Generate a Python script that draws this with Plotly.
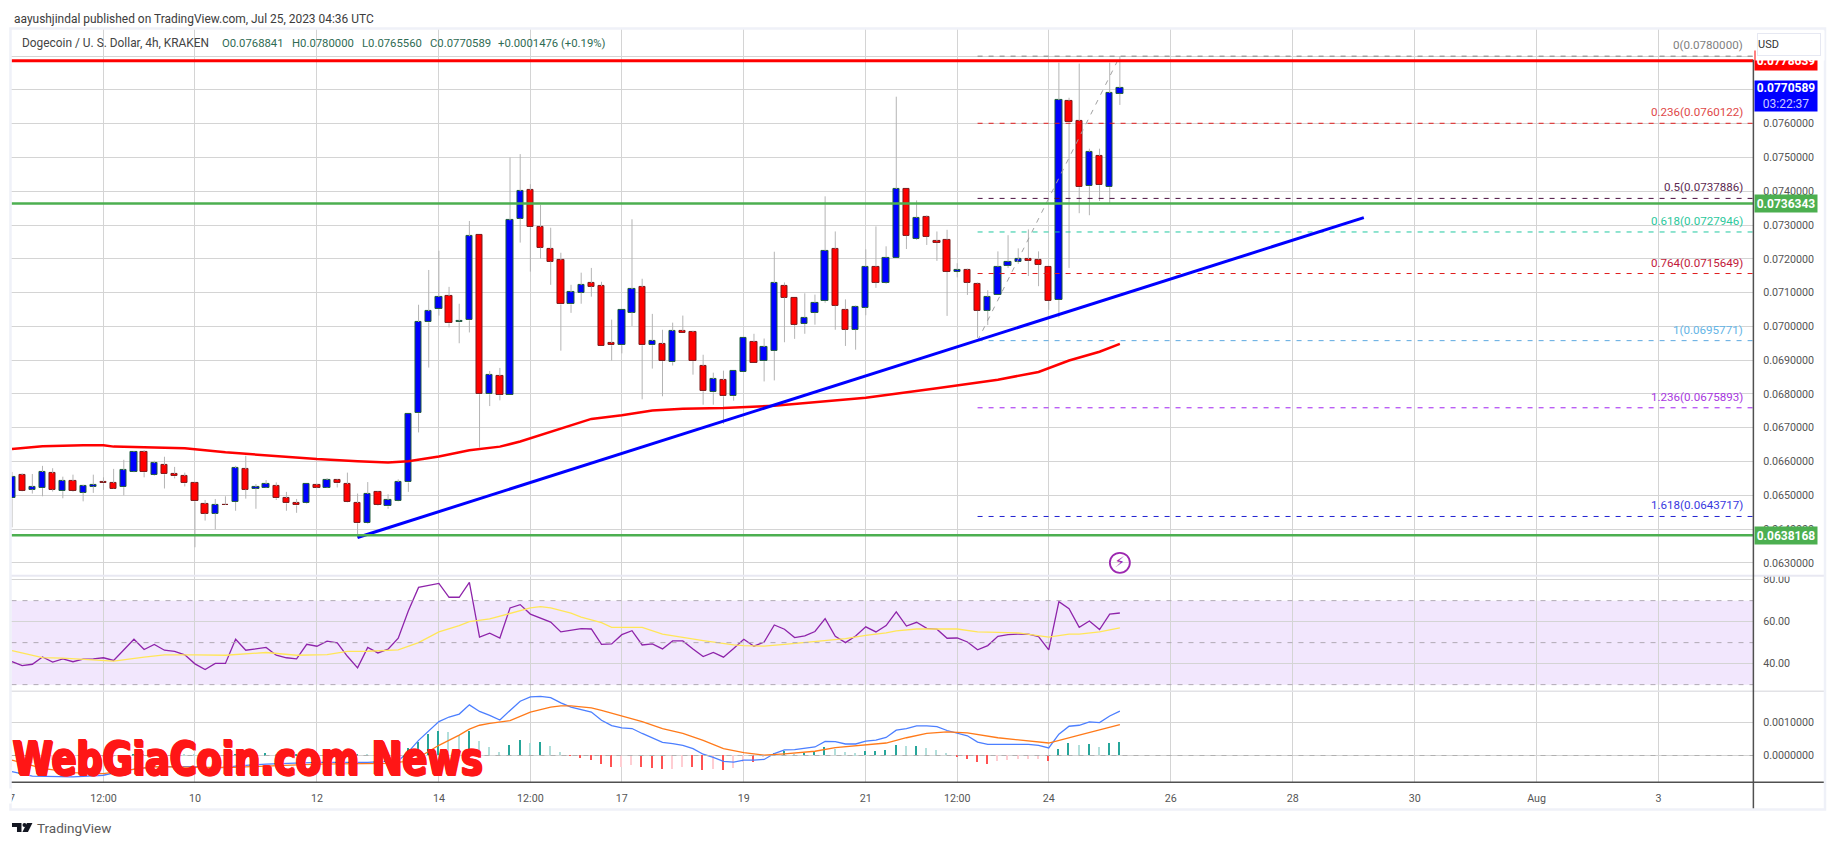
import pandas as pd
import plotly.graph_objects as go

open_ = [.06491,.06560,.06517,.06521,.06565,.06512,.06542,.06508,.06526,.06539,.06536,.06524,.06570,.06628,.06560,.06589,.06563,.06557,.06536,.06474,.06446,.06472,.06480,.06577,.06520,.06523,.06527,.06492,.06477,.06476,.06530,.06523,.06545,.06533,.06477,.06417,.06509,.06467,.06482,.06538,.06743,.07012,.07051,.07090,.07012,.07018,.07270,.06799,.06853,.06796,.07319,.07403,.07294,.07229,.07196,.07065,.07100,.07128,.07119,.06951,.06944,.07041,.07116,.06944,.06948,.06894,.06986,.06983,.06883,.06805,.06841,.06793,.06864,.06954,.06897,.06927,.07121,.07085,.07007,.07040,.07075,.07230,.07050,.06990,.07055,.07177,.07129,.07202,.07407,.07259,.07325,.07252,.07257,.07161,.07168,.07127,.07046,.07093,.07179,.07191,.07199,.07198,.07177,.07078,.07668,.07608,.07415,.07505,.07412,.0768841]
close = [.06555,.06512,.06524,.06569,.06517,.06542,.06512,.06527,.06531,.06535,.06520,.06574,.06628,.06568,.06595,.06562,.06556,.06535,.06482,.06446,.06471,.06470,.06580,.06517,.06524,.06533,.06491,.06476,.06470,.06533,.06523,.06545,.06535,.06479,.06417,.06504,.06470,.06486,.06539,.06740,.07013,.07045,.07087,.07009,.07016,.07267,.06799,.06856,.06796,.07314,.07400,.07293,.07233,.07192,.07065,.07101,.07122,.07118,.06941,.06944,.07048,.07110,.06944,.06957,.06897,.06986,.06981,.06897,.06808,.06844,.06793,.06868,.06965,.06891,.06939,.07128,.07085,.07004,.07026,.07070,.07224,.07061,.06990,.07059,.07177,.07129,.07204,.07407,.07268,.07322,.07265,.07247,.07161,.07168,.07129,.07046,.07088,.07177,.07192,.07199,.07194,.07182,.07075,.07670,.07604,.07412,.07517,.07418,.07691,.0770589]
high = [.06569,.06565,.06563,.06587,.06580,.06555,.06561,.06531,.06561,.06553,.06578,.06605,.06630,.06634,.06602,.06614,.06584,.06567,.06538,.06486,.06489,.06497,.06587,.06617,.06533,.06545,.06538,.06510,.06489,.06533,.06534,.06551,.06547,.06567,.06505,.06539,.06511,.06503,.06547,.06740,.07064,.07167,.07224,.07117,.07067,.07312,.07270,.06868,.06877,.07500,.07510,.07421,.07360,.07292,.07218,.07123,.07159,.07173,.07132,.07020,.07048,.07317,.07141,.07037,.06990,.07011,.07032,.06987,.06916,.06863,.06869,.06868,.06965,.06978,.06964,.07221,.07130,.07085,.07098,.07094,.07385,.07281,.07080,.07062,.07228,.07296,.07237,.07680,.07407,.07373,.07329,.07281,.07286,.07187,.07171,.07130,.07107,.07222,.07270,.07231,.07287,.07222,.07177,.07781,.07677,.07778,.07526,.07526,.07781,.0780]
low = [.06405,.06511,.06505,.06497,.06511,.06491,.06510,.06482,.06507,.06516,.06519,.06500,.06568,.06553,.06558,.06520,.06550,.06526,.06346,.06425,.06399,.06470,.06454,.06490,.06460,.06521,.06486,.06454,.06448,.06474,.06521,.06521,.06523,.06478,.06373,.06415,.06468,.06460,.06481,.06510,.06686,.06878,.07032,.06997,.06950,.06982,.06641,.06764,.06781,.06796,.07248,.07162,.07201,.07123,.06928,.07040,.07067,.07088,.06941,.06899,.06920,.07001,.06784,.06875,.06793,.06884,.06981,.06857,.06768,.06768,.06711,.06780,.06864,.06891,.06837,.06840,.06953,.06963,.06978,.07005,.07070,.06990,.06942,.06931,.07033,.07114,.07126,.07202,.07229,.07256,.07241,.07194,.07031,.07145,.07093,.06966,.07004,.07093,.07173,.07185,.07149,.07119,.07049,.07026,.07173,.07335,.07329,.07371,.07365,.076556]

ma_bars = [0,3,7,9,10,13,17,21,24,30,34,37,39,42,45,48,50,54,57,60,63,66,70,75,84,91,97,101,104,107,109]
ma_vals = [.06637,.06645,.06648,.06648,.06644,.06642,.06639,.06627,.06620,.06607,.06601,.06597,.06601,.06615,.06633,.06644,.06659,.06696,.06726,.06737,.06751,.06756,.06758,.06765,.06789,.06817,.06842,.06865,.06899,.06925,.06948]

trend_bars = [34, 133]
trend_vals = [.06375, .07322]

fib_start_bar = 95
fib_ratio = ["0","0.236","0.5","0.618","0.764","1","1.236","1.618"]
fib_vals = [.0780000,.0760122,.0737886,.0727946,.0715649,.0695771,.0675893,.0643717]
fib_line = ["#808080","#e01c1c","#4a1040","#20c8a0","#e01c1c","#5ba8e0","#a020f0","#2020d0"]
fib_text = ["#808080","#e04848","#5d2a52","#2dc89c","#c2183a","#64b5e6","#a838e0","#3838e0"]

resist_val = .0778639
support_vals = [.0736343, .0638168]

rsi = [41.0,39.1,39.7,43.2,40.7,42.3,40.9,42.1,42.3,42.8,41.5,46.6,51.6,46.7,49.1,46.4,45.8,44.2,39.9,37.2,40.1,40.1,51.6,46.4,46.9,47.7,44.0,42.8,42.3,49.2,48.3,50.7,49.9,43.5,38.0,47.7,45.1,46.9,52.1,65.2,76.3,77.2,78.2,71.6,71.6,78.7,52.6,54.5,52.2,66.5,68.1,63.6,61.6,59.8,55.1,56.0,56.7,56.5,49.2,49.4,53.8,55.7,48.9,49.4,47.0,50.8,50.8,47.0,43.4,45.3,43.1,47.2,51.6,48.3,50.3,58.4,56.4,52.4,53.2,55.3,61.4,53.0,50.0,53.2,57.5,55.1,58.1,64.7,57.9,59.7,56.8,56.4,52.1,52.2,50.3,46.6,48.6,53.0,53.8,54.1,54.0,52.9,46.6,69.5,66.2,57.3,60.3,56.2,63.6,64.1]
rsi_ma_bars = [0,3,5,7,10,13,15,18,21,25,28,31,33,35,38,40,42,44,45,47,49,51,52,53,55,56,58,59,62,64,68,71,72,74,76,79,82,84,86,87,89,93,95,99,102,104,105,107,109]
rsi_ma_vals = [46.2,42.9,42.6,42.0,41.2,43.1,44.2,44.2,44.0,45.3,44.0,44.3,45.8,45.9,46.6,50.0,55.1,58.1,60.0,61.3,64.0,66.5,67.1,66.5,64.0,62.1,59.5,57.3,57.3,54.1,51.0,48.9,48.6,48.3,49.2,50.5,51.9,53.5,54.6,55.6,56.5,56.5,55.1,54.6,52.6,54.1,54.1,55.1,57.0]

macd_bars = [0,2,6,9,11,14,18,20,22,25,30,35,38,39,40,42,43,44,45,46,47,48,49,50,51,52,53,54,55,57]+list(range(58,110))
macd_vals = [-.49,-.63,-.65,-.60,-.46,-.34,-.34,-.39,-.32,-.26,-.21,-.21,-.16,.11,.46,1.03,1.17,1.26,1.54,1.34,1.22,1.08,1.37,1.65,1.78,1.80,1.76,1.60,1.47,1.32,1.07,.91,.84,.82,.67,.54,.40,.36,.31,.21,.04,-.06,-.18,-.20,-.14,-.14,-.12,.06,.17,.18,.21,.26,.43,.42,.35,.35,.44,.47,.55,.77,.82,.90,.90,.88,.76,.69,.60,.41,.34,.34,.34,.34,.34,.31,.23,.65,.89,.92,1.02,1.00,1.20,1.35]
signal_bars = [0,3,6,9,11,14,18,22,25,30,37,39,40,42,44,45,46,47,49,51,53,54,55,57,58,60,62,64,66,68,70,72,74,76,79,81,83,86,88,90,92,94,97,100,102,105,107,109]
signal_vals = [-.14,-.39,-.52,-.55,-.46,-.34,-.36,-.36,-.32,-.26,-.24,-.17,-.06,.31,.62,.80,.92,.98,1.06,1.32,1.47,1.51,1.51,1.45,1.37,1.19,1.03,.82,.67,.46,.21,.09,.01,.05,.13,.24,.29,.38,.54,.67,.72,.69,.54,.44,.38,.62,.77,.94]
hist_vals = [-.35,-.30,-.25,-.20,-.15,-.12,-.10,-.10,-.08,-.06,-.05,-.02,.02,.05,.10,.10,.06,.04,.02,-.02,-.02,.02,.03,.02,.03,.06,.04,.02,.03,.04,.05,.04,.04,.03,.03,.02,.03,.02,.01,.21,.41,.65,.74,.71,.62,.74,.43,.26,.09,.31,.46,.38,.40,.28,.10,-.01,-.10,-.14,-.27,-.37,-.36,-.31,-.37,-.40,-.43,-.42,-.36,-.37,-.44,-.43,-.44,-.38,-.20,-.22,-.04,.06,.13,.04,.08,.13,.24,.18,.10,.06,.13,.13,.16,.31,.28,.28,.23,.16,.07,-.05,-.11,-.22,-.26,-.19,-.16,-.13,-.11,-.11,-.17,.19,.37,.31,.34,.25,.37,.40]

price_ticks = [.063,.064,.065,.066,.067,.068,.069,.070,.071,.072,.073,.074,.075,.076,.077,.078]
rsi_ticks = [40, 60, 80]
macd_ticks = [0, .001]
x_tick_dates = ["2023-07-07","2023-07-08 12:00","2023-07-10","2023-07-12","2023-07-14","2023-07-15 12:00","2023-07-17","2023-07-19","2023-07-21","2023-07-22 12:00","2023-07-24","2023-07-26","2023-07-28","2023-07-30","2023-08-01","2023-08-03"]
x_tick_text = ["7","12:00","10","12","14","12:00","17","19","21","12:00","24","26","28","30","Aug","3"]

W, H = 1835, 845
FONT = "Roboto"
dates = pd.date_range("2023-07-07", periods=110, freq="4h")
BAR_MS = 4 * 3600 * 1000
all_dates = pd.date_range("2023-07-07", periods=200, freq="4h")
xrange_ = ["2023-07-06 23:48", "2023-08-04 13:12"]
L, R = 9.5, 1753.0
PANE = {"y": (27, 575), "y2": (575, 691), "y3": (691, 782)}


def px(v):
    return v / W


def py(v):
    return 1 - v / H


def dom(name):
    a, b = PANE[name]
    return [py(b), py(a)]


fig = go.Figure()


def wicks(bars):
    xs, ys = [], []
    for i in bars:
        hi, lo = max(open_[i], close[i]), min(open_[i], close[i])
        xs += [dates[i], dates[i], None, dates[i], dates[i], None]
        ys += [high[i], hi, None, lo, low[i], None]
    return xs, ys


wx, wy = wicks(range(len(dates)))
fig.add_trace(go.Scatter(x=wx, y=wy, mode="lines", line=dict(color="#b4b4b4", width=1), hoverinfo="skip"))


def bodies(idx, color, edge):
    fig.add_trace(go.Bar(
        x=[dates[i] for i in idx],
        y=[max(abs(close[i] - open_[i]), 3e-6) for i in idx],
        base=[min(open_[i], close[i]) for i in idx],
        width=BAR_MS * 0.62, marker=dict(color=color, line=dict(color=edge, width=1)), hoverinfo="skip"))


bodies([i for i in range(110) if close[i] >= open_[i]], "#0000ff", "#1f5c3a")
bodies([i for i in range(110) if close[i] < open_[i]], "#ff0000", "#7a1a1a")

fig.add_trace(go.Scatter(x=[dates[i] for i in ma_bars], y=ma_vals, mode="lines",
                         line=dict(color="#ff0000", width=2.5), hoverinfo="skip"))
for v, c in zip(fib_vals, fib_line):
    fig.add_trace(go.Scatter(x=[dates[fib_start_bar], xrange_[1]], y=[v, v], mode="lines",
                             line=dict(color=c, width=1, dash="5px,6px"), hoverinfo="skip"))
fig.add_trace(go.Scatter(x=[dates[fib_start_bar], dates[109]], y=[fib_vals[5], fib_vals[0]], mode="lines",
                         line=dict(color="#a0a0a0", width=1, dash="5px,6px"), hoverinfo="skip"))
fig.add_trace(go.Scatter(x=[all_dates[i] for i in trend_bars], y=trend_vals, mode="lines",
                         line=dict(color="#0000ff", width=3), hoverinfo="skip"))

fig.add_trace(go.Scatter(x=dates, y=rsi, yaxis="y2", xaxis="x2", mode="lines",
                         line=dict(color="#8e24aa", width=1.3), hoverinfo="skip"))
fig.add_trace(go.Scatter(x=[dates[i] for i in rsi_ma_bars], y=rsi_ma_vals, yaxis="y2", xaxis="x2", mode="lines",
                         line=dict(color="#ffe658", width=1.3), hoverinfo="skip"))

hist_cols = []
for i, v in enumerate(hist_vals):
    rising = i == 0 or v >= hist_vals[i - 1]
    if v >= 0:
        hist_cols.append("#26a69a" if rising else "#b2dfdb")
    else:
        hist_cols.append("#ffcdd2" if rising else "#ff5252")
fig.add_trace(go.Bar(x=dates, y=[v * .001 for v in hist_vals], yaxis="y3", xaxis="x3",
                     width=BAR_MS * 0.14, marker=dict(color=hist_cols, line=dict(width=0)), hoverinfo="skip"))
fig.add_trace(go.Scatter(x=[dates[i] for i in macd_bars], y=[v * .001 for v in macd_vals], yaxis="y3", xaxis="x3",
                         mode="lines", line=dict(color="#4c7fff", width=1.3), hoverinfo="skip"))
fig.add_trace(go.Scatter(x=[dates[i] for i in signal_bars], y=[v * .001 for v in signal_vals], yaxis="y3", xaxis="x3",
                         mode="lines", line=dict(color="#ff7a1a", width=1.3), hoverinfo="skip"))

grid = "#d4d4d4"
axis_font = dict(family=FONT, size=10.7, color="#555555")


def xax(show, anchor):
    return dict(type="date", domain=[px(L), px(R)], range=xrange_, anchor=anchor, tickmode="array",
                tickvals=x_tick_dates, ticktext=x_tick_text, showgrid=True, gridcolor=grid, gridwidth=1,
                zeroline=False, showline=False, showticklabels=show, ticks="outside" if show else "",
                ticklen=6, tickcolor="rgba(0,0,0,0)", tickfont=axis_font, fixedrange=True)


def yax(name, rng, ticks, text):
    return dict(domain=dom(name), range=rng, side="right", anchor={"y": "x", "y2": "x2", "y3": "x3"}[name],
                tickmode="array", tickvals=ticks, ticktext=text, showgrid=True, gridcolor=grid, gridwidth=1,
                zeroline=False, showline=False, ticks="outside", ticklen=7, tickcolor="rgba(0,0,0,0)",
                tickfont=axis_font, fixedrange=True)


price_text = [f"{v:.7f}" if v < .0765 else "" for v in price_ticks]
shapes = []
# RSI band and reference levels
shapes.append(dict(type="rect", xref="x2 domain", x0=0, x1=1, yref="y2", y0=30, y1=70,
                   fillcolor="rgba(140,40,240,0.11)", line=dict(width=0), layer="below"))
for lv in (70, 50, 30):
    shapes.append(dict(type="line", xref="x2 domain", x0=0, x1=1, yref="y2", y0=lv, y1=lv,
                       line=dict(color="#b0aab4", width=1, dash="5px,6px")))
shapes.append(dict(type="line", xref="x3 domain", x0=0, x1=1, yref="y3", y0=0, y1=0,
                   line=dict(color="#b0b0b0", width=1, dash="5px,6px")))
# horizontal levels
shapes.append(dict(type="line", xref="x domain", x0=0, x1=1, yref="y", y0=resist_val, y1=resist_val,
                   line=dict(color="#ff0000", width=3)))
for v in support_vals:
    shapes.append(dict(type="line", xref="x domain", x0=0, x1=1, yref="y", y0=v, y1=v,
                       line=dict(color="#4caf50", width=2.5)))


def pline(x0, y0, x1, y1, color, width):
    shapes.append(dict(type="line", xref="paper", yref="paper", x0=px(x0), x1=px(x1), y0=py(y0), y1=py(y1),
                       line=dict(color=color, width=width)))


pline(9, 575, 1825, 575, "#e8e8f2", 2)
pline(9, 691, 1825, 691, "#e2e2e6", 1.5)
pline(9, 782, 1825, 782, "#505050", 1.5)
pline(1753.3, 58, 1753.3, 809, "#505050", 1.5)
shapes.append(dict(type="rect", xref="paper", yref="paper", x0=px(8.5), x1=px(1825), y0=py(809.5), y1=py(26.5),
                   line=dict(color="#eff1f8", width=2.5)))
# TradingView mark


def ppath(points):
    return "M" + " L".join(f"{px(a):.5f},{py(b):.5f}" for a, b in points) + " Z"


for pts in ([(10, 823), (19.5, 823), (19.5, 832), (15, 832), (15, 827), (10, 827)],
            [(25, 823), (30.5, 823), (26, 832), (20.5, 832)]):
    shapes.append(dict(type="path", xref="paper", yref="paper", path=ppath(pts), fillcolor="#131722", line=dict(width=0)))
shapes.append(dict(type="circle", xref="paper", yref="paper", x0=px(20.5), x1=px(24.5), y0=py(827), y1=py(823),
                   fillcolor="#131722", line=dict(width=0)))

ann = []


def text(x, y, s, color="#444444", size=12.5, anchor="left", family=FONT, **kw):
    ann.append(dict(xref="paper", yref="paper", x=px(x), y=py(y), text=s, showarrow=False, xanchor=anchor,
                    yanchor="middle", font=dict(family=family, size=size, **({"color": color} | kw.pop("fontx", {}))), **kw))


text(10, 17, "aayushjindal published on TradingView.com, Jul 25, 2023 04:36 UTC", "#3c3c3c", 11.95)
text(18, 41.5, "Dogecoin / U. S. Dollar, 4h, KRAKEN", "#444444", 11.9)
ohlc_pieces = [(218, "O0.0768841"), (288, "H0.0780000"), (358, "L0.0765560"), (426, "C0.0770589"), (495, "+0.0001476 (+0.19%)")]
for x_, s_ in ohlc_pieces:
    text(x_, 41.5, s_, "#2f6b53", 11.3)
for r_, v_, c_ in zip(fib_ratio, fib_vals, fib_text):
    ann.append(dict(xref="paper", yref="y", x=px(1745), y=v_, yanchor="bottom", xanchor="right", yshift=2,
                    text=f"{r_}({v_:.7f})", showarrow=False, font=dict(family=FONT, size=11.6, color=c_)))


def badge(v, s, color, h=17):
    ann.append(dict(xref="paper", yref="y", x=px(1753.5), y=v, xanchor="left", yanchor="middle", text=s, showarrow=False,
                    width=62, height=h, bgcolor=color, align="center", borderpad=0,
                    font=dict(family=FONT, size=12, color="#ffffff")))


badge(resist_val, "<b>0.0778639</b>", "#ff0000", 19)
# white strip and USD button above the clipped resistance badge
ann.append(dict(xref="paper", yref="paper", x=px(1754.5), y=py(28), xanchor="left", yanchor="top", text=" ", showarrow=False,
                width=68, height=29, bgcolor="#ffffff", borderpad=0))
ann.append(dict(xref="paper", yref="paper", x=px(1757), y=py(31), xanchor="left", yanchor="top", text="USD", showarrow=False,
                width=62, height=21, bgcolor="#ffffff", bordercolor="#e6e8f2", borderwidth=1, borderpad=0, align="left",
                font=dict(family=FONT, size=11, color="#333333")))
ann.append(dict(xref="paper", yref="paper", x=px(1753.5), y=py(78), xanchor="left", yanchor="top", showarrow=False,
                width=62, height=30, bgcolor="#0000ff", borderpad=0, align="center",
                text="<b>0.0770589</b><br><span style='color:#c8c8ff'>03:22:37</span>",
                font=dict(family=FONT, size=12, color="#ffffff")))
for v in support_vals:
    badge(v, "<b>%.7f</b>" % v, "#4caf50")
# covers the left half of the first date label
ann.append(dict(xref="paper", yref="paper", x=0, y=py(788), xanchor="left", yanchor="top", text=" ", showarrow=False,
                width=8, height=14, bgcolor="#ffffff", borderpad=0))
shadow = "1px 0 #ff1616, -1px 0 #ff1616, 0 1px #ff1616, 0 -1px #ff1616, 1.5px 1px #ff1616, -1.5px -1px #ff1616"
text(246, 758, "<b>WebGiaCoin.com News</b>", "#ff1616", 47, anchor="center", family="DejaVu Sans Condensed",
     fontx={"shadow": shadow})
text(33, 827.5, "TradingView", "#5a5a5a", 13.5)
# alert icon
fig.add_trace(go.Scatter(x=[dates[109]], y=[.06300], mode="markers+text", marker=dict(symbol="circle-open", size=20, color="#9c27b0", line=dict(width=1.8)),
                         text=["⚡"], textposition="middle center", textfont=dict(family="DejaVu Sans", size=15, color="#9c27b0"), hoverinfo="skip"))

fig.update_layout(
    width=W, height=H, autosize=False, margin=dict(l=0, r=0, t=0, b=0), paper_bgcolor="#ffffff", plot_bgcolor="#ffffff",
    showlegend=False, barmode="overlay", bargap=0,
    xaxis=xax(False, "y"), xaxis2=xax(False, "y2"), xaxis3=xax(True, "y3"),
    yaxis=yax("y", [.06262, .078806], price_ticks, price_text),
    yaxis2=yax("y2", [26.8, 81.9], rsi_ticks, [f"{v:.2f}" for v in rsi_ticks]),
    yaxis3=yax("y3", [-.00081, .00195], macd_ticks, [f"{v:.7f}" for v in macd_ticks]),
    shapes=shapes, annotations=ann,
)
post = """
document.body.style.margin = '0';
function squeezeMark() {
  document.querySelectorAll('.annotation-text').forEach(function (t) {
    if (t.textContent.indexOf('WebGiaCoin') === 0) {
      t.setAttribute('textLength', '470');
      t.setAttribute('lengthAdjust', 'spacingAndGlyphs');
    }
  });
}
squeezeMark();
requestAnimationFrame(squeezeMark);
"""
fig.write_html("out.html", config={"displayModeBar": False}, post_script=post)
